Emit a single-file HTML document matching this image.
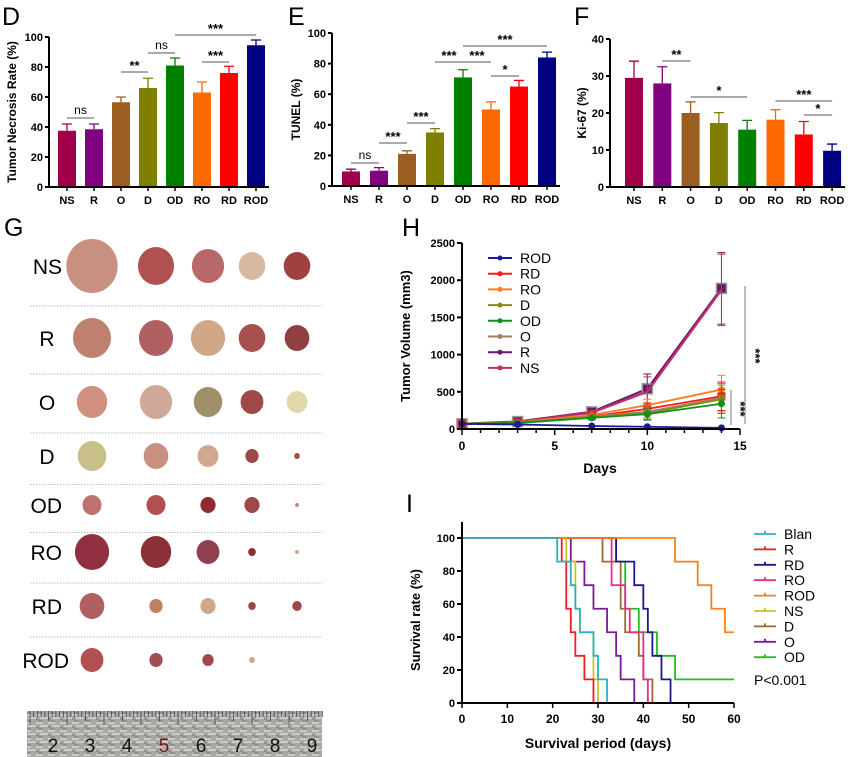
<!DOCTYPE html>
<html><head><meta charset="utf-8"><style>
body{margin:0;background:#fff;width:854px;height:757px;overflow:hidden}
svg{display:block;font-family:"Liberation Sans",Arial,sans-serif}
.ax{stroke:#000;stroke-width:2;fill:none}
.tk{font-size:11px;font-weight:bold}
</style></head><body>
<svg id="fig" width="854" height="757" viewBox="0 0 854 757">
<defs>
<pattern id="metal" width="12" height="8" patternUnits="userSpaceOnUse"><rect width="12" height="8" fill="#a8a8a4"/><path d="M0 3h7M4 6h8" stroke="#d6d6d2" stroke-width="1.5"/><path d="M2 1h5M0 7h3" stroke="#7a7a78" stroke-width="1"/></pattern>
</defs>
<g id="root"></g>
</svg>
<script>
const NS="http://www.w3.org/2000/svg";
const root=document.getElementById('root');
function mk(tag,attrs,parent,text){const e=document.createElementNS(NS,tag);for(const k in attrs)e.setAttribute(k,attrs[k]);if(text!==undefined)e.textContent=text;(parent||root).appendChild(e);return e;}

// ---------- data ----------
const groups=["NS","R","O","D","OD","RO","RD","ROD"];
const groupColors=["#a0004a","#800080","#9a5f20","#808000","#008000","#ff6a00","#ff0000","#000080"];
const necrosisVals=[37.5,38.5,56.5,66,81,63,76,94.5];
const necrosisErr=[4.5,3.5,3.5,6.5,5,7,4.5,3.5];
const tunelVals=[9.5,10,21,35,71,50,65,84];
const tunelErr=[1.5,2,2,2.5,5,5,4,3.5];
const ki67Vals=[29.5,28,20,17.3,15.5,18.2,14.2,9.8];
const ki67Err=[4.5,4.5,3,2.8,2.5,2.7,3.5,1.8];

const days=[0,3,7,10,14];
const volSeries=["ROD","RD","RO","D","OD","O","R","NS"];
const volColors=["#1a1a9a","#ff1a1a","#ff7f20","#8a8a10","#10901a","#a08060","#6a1a6a","#c0306a"];
const volROD=[70,60,40,30,15];
const volRD=[70,85,170,270,440];
const volRO=[70,90,190,320,530];
const volD=[70,85,160,210,400];
const volOD=[70,80,150,200,340];
const volO=[70,85,170,230,420];
const volR=[70,100,230,540,1890];
const volNS=[70,95,220,500,1870];
const volErrTop=[0,0,30,200,480];

const survNames=["Blan","R","RD","RO","ROD","NS","D","O","OD"];
const survColors=["#2ab0c8","#ee1c24","#1a1a8a","#ee2a8a","#f7821e","#c8c820","#9a6a30","#7a1a9a","#20c020"];
const survBlanT=[21,24,25,26,29,30,32], survBlanS=[85.7,71.4,57.1,42.9,28.6,14.3,0];
const survRT=[22,23,24,25,27,29], survRS=[85.7,57.1,42.9,28.6,14.3,0];
const survRDT=[34,38,40,41,42,44,46], survRDS=[85.7,71.4,57.1,42.9,28.6,14.3,0];
const survROT=[33,36,37,40,41], survROS=[71.4,57.1,42.9,14.3,0];
const survRODT=[47,52,55,58], survRODS=[85.7,71.4,57.1,42.9];
const survNST=[23,25,26,29,30], survNSS=[85.7,57.1,42.9,14.3,0];
const survDT=[31,35,36,39,40,42], survDS=[85.7,57.1,42.9,28.6,14.3,0];
const survOT=[24,27,29,32,34,35,38], survOS=[85.7,71.4,57.1,42.9,28.6,14.3,0];
const survODT=[34,36,39,43,47], survODS=[85.7,57.1,42.9,28.6,14.3];

// ---------- panel letters ----------
[["D",2,25],["E",288,25],["F",574,25],["G",4,236],["H",402,236],["I",406,512]].forEach(p=>{
 const t=mk('text',{x:p[1],y:p[2],'font-size':25},root,p[0]);
 
 
});

// ---------- bar charts ----------
function barChart(opt){
 const g=mk('g',{});
 
 
 const y=v=>opt.y0-(v/opt.max)*(opt.y0-opt.y1);
 const x=i=>opt.x0+opt.step*i;
 opt.vals.forEach((v,i)=>{
  const b=mk('rect',{x:x(i)-9,y:y(v),width:18,height:opt.y0-y(v),fill:groupColors[i]},g);
  
  
  const top=y(v+opt.err[i]);
  mk('path',{d:`M${x(i)} ${y(v)}V${top}M${x(i)-5} ${top}H${x(i)+5}`,stroke:groupColors[i],'stroke-width':1.3,fill:'none'},g);
  const lb=mk('text',{x:x(i),y:opt.y0+17,'text-anchor':'middle',class:'tk'},g,groups[i]);
  
  
  mk('line',{x1:x(i),x2:x(i),y1:opt.y0,y2:opt.y0+4,stroke:'#000','stroke-width':1.5},g);
 });
 mk('path',{d:`M${opt.ax} ${opt.y1}V${opt.y0}H${x(7)+13}`,class:'ax'},g);
 opt.ticks.forEach(t=>{
  mk('line',{x1:opt.ax-4,x2:opt.ax,y1:y(t),y2:y(t),stroke:'#000','stroke-width':2},g);
  mk('text',{x:opt.ax-6,y:y(t)+4,'text-anchor':'end',class:'tk'},g,t);
 });
 const yl=mk('text',{x:0,y:0,transform:`translate(${opt.lx},${(opt.y0+opt.y1)/2}) rotate(-90)`,'text-anchor':'middle','font-size':12,'font-weight':'bold'},g,opt.label);
 
 
 opt.sig.forEach(s=>{
  mk('line',{x1:x(s[0]),x2:x(s[1]),y1:s[2],y2:s[2],stroke:'#555','stroke-width':1},g);
  mk('text',{x:(x(s[0])+x(s[1]))/2,y:s[2]-(s[3]==='ns'?4:2),'text-anchor':'middle','font-size':s[3]==='ns'?12:13,'font-weight':s[3]==='ns'?'normal':'bold'},g,s[3]);
 });
}
barChart({name:'necrosis-chart',vals:necrosisVals,err:necrosisErr,x0:67,step:27,ax:49,y0:187,y1:37,max:100,ticks:[0,20,40,60,80,100],lx:16,label:'Tumor Necrosis Rate (%)',
 sig:[[0,1,118,'ns'],[2,3,72,'**'],[3,4,53,'ns'],[4,7,35,'***'],[5,6,62,'***']]});
barChart({name:'tunel-chart',vals:tunelVals,err:tunelErr,x0:351,step:28,ax:332,y0:186,y1:33,max:100,ticks:[0,20,40,60,80,100],lx:300,label:'TUNEL (%)',
 sig:[[0,1,163,'ns'],[1,2,143,'***'],[2,3,123,'***'],[3,4,62,'***'],[4,5,62,'***'],[5,6,76,'*'],[4,7,46,'***']]});
barChart({name:'ki67-chart',vals:ki67Vals,err:ki67Err,x0:634,step:28.3,ax:610,y0:187,y1:39,max:40,ticks:[0,10,20,30,40],lx:586,label:'Ki-67 (%)',
 sig:[[1,2,61,'**'],[2,4,97,'*'],[5,7,101,'***'],[6,7,115,'*']]});

// ---------- panel G (photo approximation) ----------
const gG=mk('g',{});


const rowLabels=["NS","R","O","D","OD","RO","RD","ROD"];
const rowY=[266,338,402,456,505,552,606,660];
const colX=[92,156,208,252,297];
const tumorR=[[27,19,17,14,14],[20,18,18,14,13],[16,17,15,12,11],[15,13,11,7,3],[10,10,8,8,2],[18,16,12,4,2],[13,7,8,4,5],[12,7,6,3,0]];
const tumorC=[["#c89080","#b05050","#b86868","#d8b8a0","#a04040"],["#c08070","#b06060","#d0a888","#a85050","#904040"],["#d09080","#d0a898","#a0906a","#a04848","#e0d8a8"],["#c8c088","#c89080","#d0a890","#a04848","#a05040"],["#c07070","#b05050","#902c30","#a04848","#c08080"],["#903040","#8a3038","#904050","#902c30","#d0a080"],["#b06060","#c08060","#d0a888","#a04848","#a04848"],["#b05050","#a05050","#a04850","#d0a888","#fff"]];
rowLabels.forEach((r,i)=>{
 const t=mk('text',{x:r.length===1?47:(i===7?69:62),y:rowY[i]+8,'text-anchor':r.length>1?'end':'middle','font-size':21},gG,r);
 
 
 colX.forEach((cx,j)=>{
  if(tumorR[i][j]>0) mk('ellipse',{cx:cx,cy:rowY[i],rx:tumorR[i][j]*0.95,ry:tumorR[i][j],fill:tumorC[i][j]},gG);
 });
 if(i<7) mk('line',{x1:30,x2:322,y1:(rowY[i]+rowY[i+1])/2+4,y2:(rowY[i]+rowY[i+1])/2+4,stroke:'#bbb','stroke-width':1,'stroke-dasharray':'1.5 1.5'},gG);
});
const ruler=mk('rect',{x:27,y:711,width:295,height:46,fill:'url(#metal)'},gG);


for(let k=0;k<80;k++){const xx=30+k*3.7;mk('line',{x1:xx,x2:xx,y1:711,y2:711+(k%10===0?14:(k%5===0?10:6)),stroke:'#444','stroke-width':0.8},gG);}
[2,3,4,5,6,7,8,9].forEach((n,k)=>mk('text',{x:53+k*37,y:752,'text-anchor':'middle','font-size':19,fill:n===5?'#7a1010':'#111'},gG,n));

// ---------- panel H ----------
const gH=mk('g',{});


const hx=d=>462+d/15*(740-462), hy=v=>429-v/2500*(429-243);
const volData=[volROD,volRD,volRO,volD,volOD,volO,volR,volNS];
[6,7,2,1,5,3,4,0].forEach(si=>{
 const arr=volData[si];
 const pl=mk('polyline',{points:arr.map((v,i)=>hx(days[i])+','+hy(v)).join(' '),fill:'none',stroke:volColors[si],'stroke-width':si>=6?2.2:1.8},gH);
 
 
 arr.forEach((v,i)=>{
  const e=volErrTop[i]*(si>=6?1:0.4);
  if(e>0&&si!==0) mk('path',{d:`M${hx(days[i])} ${hy(v-e)}V${hy(v+e)}M${hx(days[i])-4} ${hy(v+e)}h8M${hx(days[i])-4} ${hy(v-e)}h8`,stroke:volColors[si],'stroke-width':1,fill:'none'},gH);
  const cx=hx(days[i]),cy=hy(v);
  if(si===6) mk('rect',{x:cx-5,y:cy-5,width:10,height:10,fill:'#6a1a6a',stroke:'#999','stroke-width':1.5},gH);
  else if(si===1) mk('rect',{x:cx-4,y:cy-4,width:8,height:8,fill:volColors[si]},gH);
  else if(si!==7) mk('circle',{cx:cx,cy:cy,r:3.5,fill:volColors[si]},gH);
 });
});
mk('path',{d:`M462 243V429H740`,class:'ax'},gH);
[0,500,1000,1500,2000,2500].forEach(t=>{mk('line',{x1:457,x2:462,y1:hy(t),y2:hy(t),stroke:'#000','stroke-width':2},gH);mk('text',{x:455,y:hy(t)+4,'text-anchor':'end',class:'tk'},gH,t);});
for(let d=0;d<=15;d++)mk('line',{x1:hx(d),x2:hx(d),y1:429,y2:d%5===0?435:433,stroke:'#000','stroke-width':1.5},gH);
[0,5,10,15].forEach(t=>mk('text',{x:hx(t),y:450,'text-anchor':'middle','font-size':12,'font-weight':'bold'},gH,t));
mk('text',{x:600,y:473,'text-anchor':'middle','font-size':14,'font-weight':'bold'},gH,'Days');
mk('text',{x:0,y:0,transform:'translate(410,336) rotate(-90)','text-anchor':'middle','font-size':13,'font-weight':'bold'},gH,'Tumor Volume (mm3)');
volSeries.forEach((n,i)=>{
 const ly=258+i*15.7;
 mk('line',{x1:488,x2:512,y1:ly,y2:ly,stroke:volColors[i],'stroke-width':2},gH);
 mk('circle',{cx:500,cy:ly,r:2.5,fill:volColors[i]},gH);
 const t=mk('text',{x:520,y:ly+5,'font-size':14},gH,n);
 
 
});
mk('line',{x1:745,x2:745,y1:286,y2:424,stroke:'#777','stroke-width':1},gH);
mk('text',{x:0,y:0,transform:'translate(751,356) rotate(90)','text-anchor':'middle','font-size':13,'font-weight':'bold'},gH,'***');
mk('line',{x1:731,x2:731,y1:390,y2:425,stroke:'#777','stroke-width':1},gH);
mk('text',{x:0,y:0,transform:'translate(736,409) rotate(90)','text-anchor':'middle','font-size':13,'font-weight':'bold'},gH,'***');

// ---------- panel I ----------
const gI=mk('g',{});


const ix=d=>462+d/60*(734-462), iy=s=>703-s/100*(703-538);
const survT=[survBlanT,survRT,survRDT,survROT,survRODT,survNST,survDT,survOT,survODT];
const survS=[survBlanS,survRS,survRDS,survROS,survRODS,survNSS,survDS,survOS,survODS];
[8,6,7,3,2,5,1,4,0].forEach(k=>{
 let d=`M${ix(0)} ${iy(100)}`, s=100;
 survT[k].forEach((t,j)=>{d+=`H${ix(t)}V${iy(survS[k][j])}`;s=survS[k][j];});
 if(s>0)d+=`H${ix(60)}`;
 const p=mk('path',{d:d,fill:'none',stroke:survColors[k],'stroke-width':1.8},gI);
 
 
});
mk('path',{d:`M462 522V703H734`,class:'ax'},gI);
[0,20,40,60,80,100].forEach(t=>{mk('line',{x1:457,x2:462,y1:iy(t),y2:iy(t),stroke:'#000','stroke-width':2},gI);mk('text',{x:455,y:iy(t)+4,'text-anchor':'end',class:'tk'},gI,t);});
[0,10,20,30,40,50,60].forEach(t=>{mk('line',{x1:ix(t),x2:ix(t),y1:703,y2:708,stroke:'#000','stroke-width':1.5},gI);mk('text',{x:ix(t),y:723,'text-anchor':'middle','font-size':12,'font-weight':'bold'},gI,t);});
mk('text',{x:598,y:748,'text-anchor':'middle','font-size':14,'font-weight':'bold'},gI,'Survival period (days)');
mk('text',{x:0,y:0,transform:'translate(420,620) rotate(-90)','text-anchor':'middle','font-size':13,'font-weight':'bold'},gI,'Survival rate (%)');
survNames.forEach((n,i)=>{
 const ly=534+i*15.4;
 mk('path',{d:`M754 ${ly}H776M765 ${ly}v-3`,stroke:survColors[i],'stroke-width':1.8,fill:'none'},gI);
 const t=mk('text',{x:784,y:ly+5,'font-size':14},gI,n);
 
 
});
mk('text',{x:754,y:685,'font-size':14},gI,'P<0.001');
</script>
</body></html>
